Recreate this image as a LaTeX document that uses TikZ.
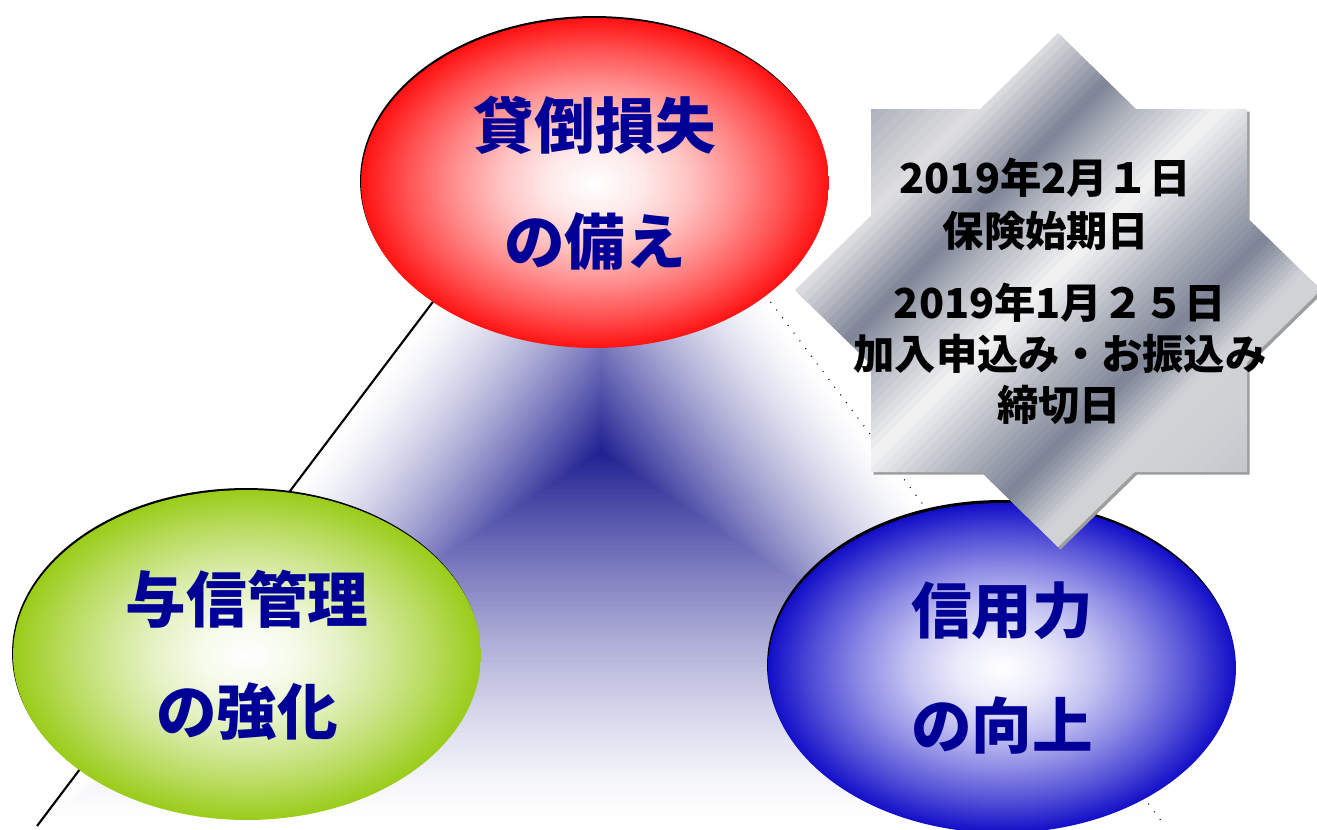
\documentclass[tikz,border=0pt]{standalone}
\usepackage{fontspec}
\setmainfont{Noto Sans CJK JP}
\usetikzlibrary{shapes.geometric}
\definecolor{trinavy}{RGB}{30,30,145}
\definecolor{redc}{RGB}{255,18,18}
\definecolor{greenc}{RGB}{154,204,26}
\definecolor{bluec}{RGB}{18,14,200}
\definecolor{labelc}{RGB}{0,0,150}
\definecolor{starshadow}{RGB}{158,158,158}
\definecolor{s0}{HTML}{A4A8B4}
\definecolor{s1}{HTML}{E0E0E2}
\definecolor{s2}{HTML}{7D8496}
\definecolor{s3}{HTML}{B0B4BE}
\definecolor{s4}{HTML}{F4F4F4}
\definecolor{s5}{HTML}{B0B4BE}
\definecolor{s6}{HTML}{7D8496}
\definecolor{s7}{HTML}{D0D2D6}
\definecolor{s8}{HTML}{CFD1D5}
\definecolor{s9}{HTML}{C0C3C9}
\newcommand\mkglow[2]{\pgfdeclareradialshading{#1}{\pgfpoint{0bp}{0bp}}{%
  color(0bp)=(white); color(5bp)=(#2!9!white); color(10bp)=(#2!25!white);
  color(15bp)=(#2!47!white); color(20bp)=(#2!72!white); color(25bp)=(#2); color(50bp)=(#2)}}
\mkglow{redglow}{redc}
\mkglow{greenglow}{greenc}
\mkglow{blueglow}{bluec}
\begin{document}
\begin{tikzpicture}[x=0.02cm,y=-0.02cm,
  bubble/.style={ellipse, minimum width=9.36cm, minimum height=6.6cm, inner sep=0pt,
    align=center, text=labelc, font=\fontsize{34.5}{66}\selectfont\bfseries},
  bubbleshadow/.style={ellipse, minimum width=9.36cm, minimum height=6.6cm, inner sep=0pt, fill=black},
  startext/.style={font=\fontsize{23.5}{28}\selectfont\bfseries, text=black, inner sep=0pt, anchor=center},
  leftedge/.style={line width=1.2pt, black},
  rightedge/.style={line width=0.7pt, black, dash pattern=on 0.5pt off 5pt}]
\useasboundingbox (0,0) rectangle (1317,829);
\fill[white] (0,0) rectangle (1317,829);

% triangle with shape gradient
\coordinate (A) at (602,78);
\coordinate (B) at (37,826);
\coordinate (C) at (1165,826);
\foreach \i in {0,...,79} {
  \pgfmathsetmacro\s{1-\i/80}
  \pgfmathsetmacro\c{100*(\i/80)^1.4}
  \fill[trinavy!\c!white, shift={(601,452)}, scale=\s] (1,-374) -- (-564,374) -- (564,374) -- cycle;
}
\draw[leftedge] (A) -- (B);
\draw[rightedge] (A) -- (C);

% ellipses
\node[bubbleshadow] (redsh) at (594,181) {};
\node[bubble, shading=redglow] (red) at (595,183) {貸倒損失\\の備え};
\node[bubbleshadow] (greensh) at (246,653) {};
\node[bubble, shading=greenglow, font=\fontsize{34.5}{63.5}\selectfont\bfseries] (green) at (247,655) {与信管理\\の強化};
\node[bubbleshadow] (bluesh) at (1001,665) {};
\node[bubble, shading=blueglow, font=\fontsize{34.5}{65.8}\selectfont\bfseries] (blue) at (1002,668) {信用力\\の向上};

% star
\fill[starshadow, shift={(2.5,2.5)}] (871,109) -- (1247,109) -- (1247,472) -- (871,472) -- cycle
   (1058,33) -- (1321,290) -- (1058,547) -- (795,290) -- cycle;
\begin{scope}
  \clip (871,109) -- (1247,109) -- (1247,472) -- (871,472) -- cycle
   (1058,33) -- (1321,290) -- (1058,547) -- (795,290) -- cycle;
  \foreach \ua/\ub/\ca/\cb in {960/1088/s0/s1, 1088/1188/s1/s2, 1188/1240/s2/s3, 1240/1330/s3/s4, 1330/1424/s4/s5, 1424/1505/s5/s6, 1505/1575/s6/s7, 1575/1640/s7/s8, 1640/1740/s8/s9} {
    \foreach \k in {0,...,9} {
      \pgfmathsetmacro\uu{\ua+(\ub-\ua)*\k/10}
      \pgfmathsetmacro\uv{\ua+(\ub-\ua)*(\k+1)/10+1}
      \pgfmathsetmacro\pc{100*(\k+0.5)/10}
      \fill[\cb!\pc!\ca] (\uu,0) -- (\uv,0) -- ({\uv-600},600) -- ({\uu-600},600) -- cycle;
    }
  }
\end{scope}
\node[startext] (d1) at (1045,178) {2019年2月１日};
\node[startext] (d2) at (1046,231) {保険始期日};
\node[startext] (d3) at (1060,303) {2019年1月２５日};
\node[startext] (d4) at (1060,354) {加入申込み・お振込み};
\node[startext] (d5) at (1059,405) {締切日};
\end{tikzpicture}
\end{document}
